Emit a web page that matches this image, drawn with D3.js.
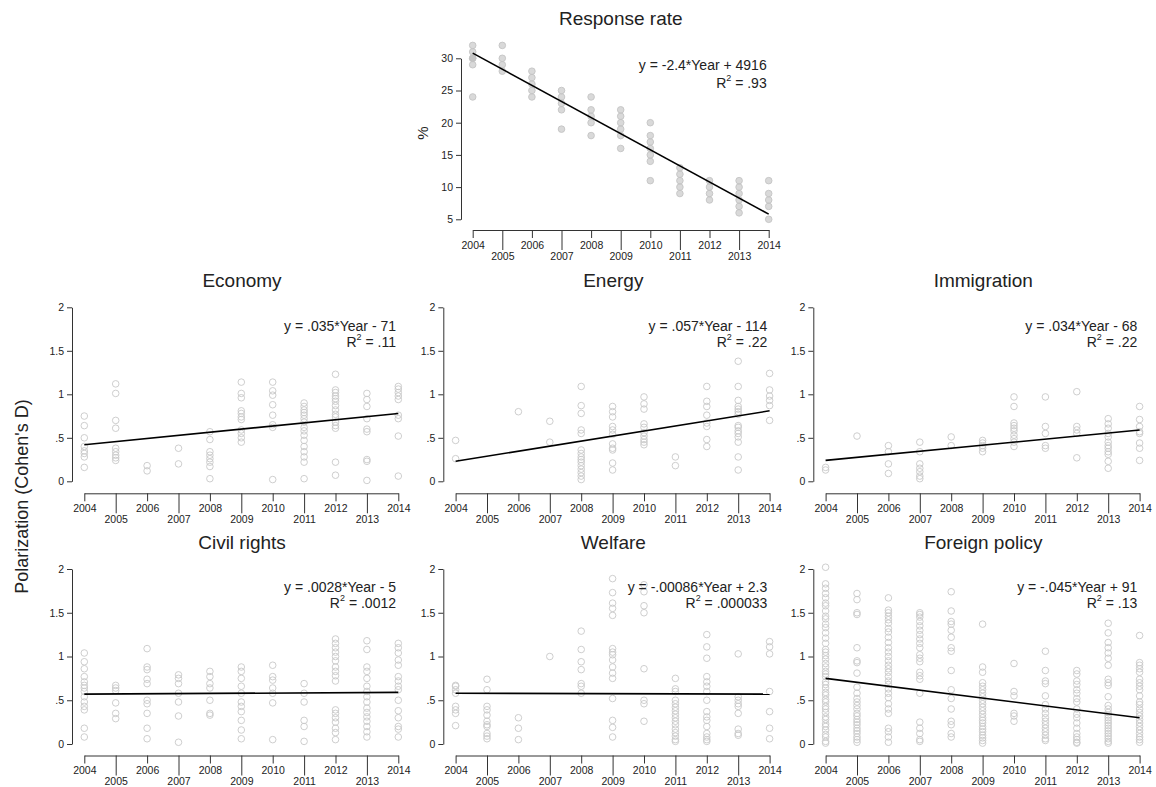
<!DOCTYPE html>
<html>
<head>
  <meta charset="UTF-8">
  <style>
body{
    margin: 0;
    background: #fff;
}
svg text{
    font-family: "Liberation Sans", Arial, sans-serif;
    fill: #222;
}
  </style>
</head>
<body>
<svg></svg>

<script src="https://d3js.org/d3.v7.min.js"></script>

<script>

let width = 1156, height = 787;

// data
const years = [2004, 2005, 2006, 2007, 2008, 2009, 2010, 2011, 2012, 2013, 2014];

const responseRate = [
    [32, 31, 30, 30, 29, 24],
    [32, 30, 29, 28],
    [28, 27, 26, 25, 24],
    [25, 24, 23, 22, 19],
    [24, 22, 21, 20, 18],
    [22, 21, 20, 19, 18, 16],
    [20, 18, 17, 16, 15, 14, 11],
    [13, 12, 11, 10, 9],
    [11, 10, 9, 8],
    [11, 10, 9, 8, 7, 6],
    [11, 9, 8, 7, 5]
];

const economy = [
    [0.75, 0.64, 0.50, 0.40, 0.35, 0.32, 0.28, 0.16],
    [1.12, 1.01, 0.70, 0.61, 0.38, 0.34, 0.30, 0.27, 0.24],
    [0.18, 0.12],
    [0.38, 0.20],
    [0.57, 0.48, 0.34, 0.30, 0.26, 0.22, 0.17, 0.03],
    [1.14, 1.01, 0.96, 0.81, 0.78, 0.74, 0.71, 0.59, 0.55, 0.50, 0.45],
    [1.14, 1.04, 0.99, 0.88, 0.76, 0.65, 0.62, 0.02],
    [0.90, 0.86, 0.82, 0.79, 0.76, 0.72, 0.68, 0.62, 0.58, 0.53, 0.47, 0.40, 0.34, 0.28, 0.22, 0.03],
    [1.23, 1.05, 1.02, 0.98, 0.95, 0.92, 0.87, 0.82, 0.77, 0.74, 0.68, 0.64, 0.61, 0.22, 0.07],
    [1.01, 0.94, 0.86, 0.72, 0.60, 0.57, 0.25, 0.23, 0.01],
    [1.09, 1.06, 1.02, 0.98, 0.94, 0.76, 0.72, 0.52, 0.06]
];

const energy = [
    [0.47, 0.26],
    [],
    [0.80],
    [0.69, 0.45],
    [1.09, 0.87, 0.78, 0.59, 0.55, 0.36, 0.32, 0.28, 0.25, 0.22, 0.18, 0.14, 0.10, 0.06, 0.02],
    [0.86, 0.80, 0.74, 0.63, 0.59, 0.54, 0.43, 0.38, 0.36, 0.21, 0.13],
    [0.97, 0.89, 0.83, 0.66, 0.62, 0.56, 0.52, 0.48, 0.45, 0.42],
    [0.28, 0.18],
    [1.09, 0.92, 0.86, 0.76, 0.67, 0.63, 0.48, 0.40],
    [1.38, 1.09, 0.93, 0.86, 0.83, 0.80, 0.77, 0.64, 0.62, 0.58, 0.55, 0.51, 0.45, 0.28, 0.13],
    [1.24, 1.05, 0.98, 0.93, 0.87, 0.70]
];

const immigration = [
    [0.16, 0.13],
    [0.52],
    [0.41, 0.34, 0.20, 0.09],
    [0.45, 0.34, 0.20, 0.15, 0.11, 0.06, 0.03],
    [0.51, 0.41],
    [0.47, 0.44, 0.41, 0.38, 0.34],
    [0.97, 0.86, 0.67, 0.64, 0.61, 0.58, 0.53, 0.49, 0.45, 0.40],
    [0.97, 0.63, 0.55, 0.41, 0.38],
    [1.03, 0.63, 0.59, 0.55, 0.27],
    [0.72, 0.66, 0.61, 0.55, 0.51, 0.45, 0.41, 0.38, 0.34, 0.31, 0.23, 0.15],
    [0.86, 0.71, 0.63, 0.57, 0.55, 0.44, 0.38, 0.24]
];

const civilRights = [
    [1.04, 0.94, 0.86, 0.77, 0.71, 0.67, 0.64, 0.60, 0.54, 0.48, 0.43, 0.39, 0.18, 0.08],
    [0.67, 0.64, 0.61, 0.47, 0.35, 0.29],
    [1.09, 0.88, 0.85, 0.74, 0.69, 0.50, 0.46, 0.35, 0.18, 0.06],
    [0.79, 0.75, 0.69, 0.58, 0.48, 0.32, 0.02],
    [0.83, 0.77, 0.69, 0.64, 0.50, 0.35, 0.33],
    [0.88, 0.83, 0.75, 0.66, 0.58, 0.48, 0.43, 0.37, 0.27, 0.16, 0.06],
    [0.90, 0.77, 0.73, 0.64, 0.58, 0.47, 0.05],
    [0.69, 0.58, 0.48, 0.27, 0.20, 0.03],
    [1.20, 1.15, 1.10, 1.05, 1.00, 0.95, 0.88, 0.83, 0.78, 0.72, 0.39, 0.35, 0.30, 0.25, 0.18, 0.13, 0.05],
    [1.18, 1.08, 0.88, 0.83, 0.75, 0.66, 0.60, 0.54, 0.48, 0.41, 0.36, 0.31, 0.26, 0.20, 0.14, 0.08],
    [1.15, 1.10, 1.04, 0.96, 0.90, 0.77, 0.72, 0.66, 0.62, 0.50, 0.38, 0.30, 0.20, 0.17, 0.08]
];

const welfare = [
    [0.67, 0.66, 0.62, 0.58, 0.43, 0.39, 0.35, 0.21],
    [0.74, 0.62, 0.43, 0.39, 0.33, 0.26, 0.22, 0.20, 0.12, 0.09, 0.06],
    [0.30, 0.18, 0.05],
    [1.00],
    [1.29, 1.08, 0.94, 0.85, 0.69, 0.66, 0.58],
    [1.89, 1.73, 1.61, 1.55, 1.47, 1.09, 1.05, 1.02, 0.96, 0.88, 0.81, 0.75, 0.52, 0.27, 0.19, 0.08],
    [1.82, 1.74, 1.58, 1.50, 0.86, 0.50, 0.46, 0.26],
    [0.75, 0.63, 0.60, 0.50, 0.46, 0.42, 0.38, 0.34, 0.30, 0.26, 0.22, 0.17, 0.13, 0.09, 0.05, 0.03],
    [1.25, 1.11, 0.98, 0.77, 0.71, 0.66, 0.60, 0.50, 0.37, 0.31, 0.27, 0.20, 0.12, 0.08, 0.05, 0.03],
    [1.03, 0.54, 0.50, 0.46, 0.43, 0.35, 0.17, 0.12, 0.10],
    [1.17, 1.11, 1.03, 0.60, 0.37, 0.18, 0.06]
];

const foreignPolicy = [
    [2.02, 1.83, 1.78, 1.72, 1.67, 1.61, 1.58, 1.52, 1.46, 1.43, 1.37, 1.33, 1.27, 1.21, 1.15, 1.08, 1.05, 1.01, 0.97, 0.92, 0.88, 0.83, 0.80, 0.77, 0.71, 0.68, 0.64, 0.59, 0.56, 0.51, 0.48, 0.43, 0.40, 0.36, 0.31, 0.28, 0.23, 0.20, 0.16, 0.11, 0.08, 0.03, 0.01],
    [1.72, 1.65, 1.50, 1.48, 1.10, 0.95, 0.93, 0.81, 0.65, 0.58, 0.52, 0.48, 0.44, 0.40, 0.35, 0.32, 0.28, 0.25, 0.22, 0.18, 0.15, 0.12, 0.08, 0.05, 0.02],
    [1.67, 1.53, 1.50, 1.46, 1.42, 1.38, 1.32, 1.28, 1.22, 1.16, 1.10, 1.05, 1.00, 0.95, 0.90, 0.86, 0.82, 0.77, 0.72, 0.68, 0.63, 0.58, 0.53, 0.46, 0.40, 0.35, 0.18, 0.14, 0.08, 0.02],
    [1.50, 1.48, 1.45, 1.40, 1.35, 1.30, 1.25, 1.20, 1.15, 1.10, 1.02, 0.98, 0.94, 0.82, 0.78, 0.74, 0.58, 0.25, 0.18, 0.12, 0.05, 0.03],
    [1.74, 1.52, 1.40, 1.37, 1.30, 1.22, 1.10, 1.06, 0.84, 0.62, 0.52, 0.40, 0.26, 0.22, 0.12, 0.08],
    [1.37, 0.88, 0.82, 0.70, 0.66, 0.62, 0.58, 0.54, 0.50, 0.46, 0.42, 0.38, 0.34, 0.30, 0.27, 0.24, 0.20, 0.17, 0.14, 0.10, 0.07, 0.04, 0.01],
    [0.92, 0.60, 0.55, 0.35, 0.32, 0.26],
    [1.06, 0.84, 0.72, 0.69, 0.55, 0.45, 0.40, 0.35, 0.30, 0.26, 0.22, 0.18, 0.14, 0.10, 0.06, 0.04],
    [0.84, 0.80, 0.72, 0.68, 0.62, 0.58, 0.52, 0.48, 0.40, 0.34, 0.30, 0.24, 0.18, 0.12, 0.08, 0.05, 0.02, 0.01],
    [1.38, 1.27, 1.16, 1.10, 1.04, 0.98, 0.90, 0.74, 0.70, 0.67, 0.54, 0.44, 0.40, 0.36, 0.33, 0.30, 0.27, 0.24, 0.21, 0.18, 0.15, 0.12, 0.09, 0.06, 0.03, 0.01],
    [1.24, 0.93, 0.90, 0.86, 0.82, 0.74, 0.70, 0.66, 0.62, 0.55, 0.48, 0.45, 0.40, 0.36, 0.32, 0.28, 0.24, 0.20, 0.16, 0.12, 0.08, 0.05, 0.02]
];

// fitted line value at 2004 and at 2014
const fitResponse = [30.8, 5.8];
const fitEconomy = [0.42, 0.78];
const fitEnergy = [0.23, 0.81];
const fitImmigration = [0.24, 0.59];
const fitCivil = [0.57, 0.59];
const fitWelfare = [0.58, 0.57];
const fitForeign = [0.75, 0.30];

const titles = ["Economy", "Energy", "Immigration", "Civil rights", "Welfare", "Foreign policy"];
const equations = ["y = .035*Year - 71", "y = .057*Year - 114", "y = .034*Year - 68",
                   "y = .0028*Year - 5", "y = -.00086*Year + 2.3", "y = -.045*Year + 91"];
const rSquared = [".11", ".22", ".22", ".0012", ".000033", ".13"];

const rateTicks = [5, 10, 15, 20, 25, 30];
const polTicks = [0, 0.5, 1, 1.5, 2];
const polTickLabels = ["0", ".5", "1", "1.5", "2"];

let svg = d3.select("svg")
    .attr("width", width)
    .attr("height", height)

function drawPanel(p) {
    let g = svg.append("g")

    let x = d3.scaleLinear().domain([2004, 2014]).range([p.xStart, p.xEnd])
    let y = d3.scaleLinear().domain(p.yDomain).range(p.yRange)

    // y axis
    let yAxis = g.append("g")
        .attr("transform", "translate(" + p.axisX + ",0)")
        .call(d3.axisLeft(y)
            .tickValues(p.ticks)
            .tickFormat((d, i) => p.tickLabels[i])
            .tickSize(5)
            .tickSizeOuter(0)
            .tickPadding(3))
    yAxis.attr("color", "#333")
    yAxis.selectAll("text").style("font-size", "10.5px").attr("font-family", null)

    // x axis with staggered labels
    let xAxis = g.append("g")
        .attr("transform", "translate(0," + p.axisY + ")")
        .call(d3.axisBottom(x)
            .tickValues(years)
            .tickFormat(d3.format("d"))
            .tickSize(8)
            .tickSizeOuter(0))
    xAxis.attr("color", "#333")
    xAxis.selectAll(".tick").each(function(d) {
        let odd = (d % 2 == 1)
        d3.select(this).select("line").attr("y2", odd ? 20 : 8)
        d3.select(this).select("text")
            .attr("y", odd ? 26 : 15)
            .attr("dy", "0.35em")
            .style("font-size", "10.5px")
    })

    // points
    let pts = []
    p.data.forEach((vals, i) => vals.forEach(v => pts.push({year: years[i], v: v})))
    g.append("g")
        .selectAll("circle")
        .data(pts)
        .enter()
        .append("circle")
        .attr("cx", d => x(d.year))
        .attr("cy", d => y(d.v))
        .attr("r", 3.3)
        .attr("fill", p.filled ? "rgba(170,170,170,0.45)" : "none")
        .attr("stroke", p.filled ? "#c4c4c4" : "#c8c8c8")
        .attr("stroke-width", 0.9)

    // regression line
    g.append("line")
        .attr("x1", x(2004))
        .attr("y1", y(p.fit[0]))
        .attr("x2", x(2014))
        .attr("y2", y(p.fit[1]))
        .attr("stroke", "#000")
        .attr("stroke-width", 1.6)

    g.append("text")
        .attr("x", p.titleX)
        .attr("y", p.titleY)
        .attr("text-anchor", "middle")
        .attr("dominant-baseline", "central")
        .style("font-size", "19px")
        .text(p.title)

    g.append("text")
        .attr("x", p.eqX)
        .attr("y", p.eqY)
        .attr("text-anchor", "end")
        .attr("dominant-baseline", "central")
        .style("font-size", "14px")
        .text(p.eq)

    let r2 = g.append("text")
        .attr("x", p.eqX)
        .attr("y", p.eqY + p.eqGap)
        .attr("text-anchor", "end")
        .attr("dominant-baseline", "central")
        .style("font-size", "14px")
    r2.append("tspan").text("R")
    r2.append("tspan").text("2").style("font-size", "9px").attr("dy", -5)
    r2.append("tspan").text(" = " + p.r2).attr("dy", 5)
}

// top panel
drawPanel({
    data: responseRate, fit: fitResponse, filled: true,
    yDomain: [5, 30], yRange: [219.3, 58.3], ticks: rateTicks, tickLabels: rateTicks.map(String),
    axisX: 461, xStart: 472.7, xEnd: 768.7, axisY: 230,
    title: "Response rate", titleX: 620.8, titleY: 18,
    eq: "y = -2.4*Year + 4916", r2: ".93", eqX: 766.7, eqY: 65, eqGap: 17.5
})

svg.append("text")
    .attr("transform", "translate(422,133) rotate(-90)")
    .attr("text-anchor", "middle")
    .attr("dominant-baseline", "central")
    .style("font-size", "15px")
    .text("%")

const topicData = [economy, energy, immigration, civilRights, welfare, foreignPolicy];
const topicFits = [fitEconomy, fitEnergy, fitImmigration, fitCivil, fitWelfare, fitForeign];
const colX = [72, 443.3, 813.3];
const rowY = [
    {yRange: [481.3, 307.3], axisY: 493.3, titleY: 280.7, eqY: 325.7},
    {yRange: [744, 569], axisY: 755.5, titleY: 542.7, eqY: 586.7}
];

topicData.forEach((d, i) => {
    let c = colX[i % 3], r = rowY[Math.floor(i / 3)]
    drawPanel({
        data: d, fit: topicFits[i], filled: false,
        yDomain: [0, 2], yRange: r.yRange, ticks: polTicks, tickLabels: polTickLabels,
        axisX: c, xStart: c + 12.3, xEnd: c + 326.3, axisY: r.axisY,
        title: titles[i], titleX: c + 170, titleY: r.titleY,
        eq: equations[i], r2: rSquared[i], eqX: c + 324, eqY: r.eqY, eqGap: 16.6
    })
})

svg.append("text")
    .attr("transform", "translate(21.7,496.5) rotate(-90)")
    .attr("text-anchor", "middle")
    .attr("dominant-baseline", "central")
    .style("font-size", "18px")
    .text("Polarization (Cohen's D)")

</script>
</body>
</html>
